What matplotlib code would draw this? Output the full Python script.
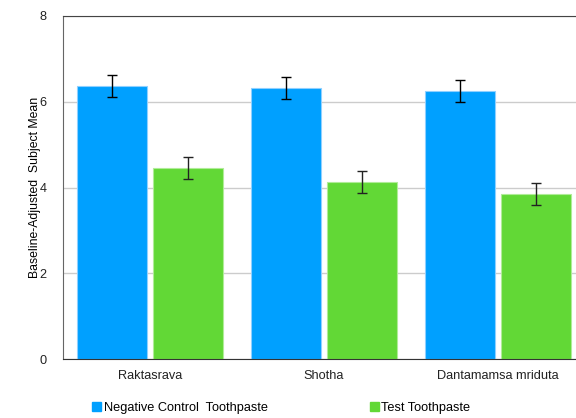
import numpy as np
import matplotlib.pyplot as plt
from matplotlib.patches import Patch

categories = ['Raktasrava', 'Shotha', 'Dantamamsa mriduta']
control_mean = [6.37, 6.32, 6.25]
control_err = [0.25, 0.25, 0.25]
test_mean = [4.45, 4.13, 3.85]
test_err = [0.26, 0.26, 0.26]

plt.rcParams['font.family'] = ['Liberation Sans', 'DejaVu Sans']

fig = plt.figure(figsize=(5.76, 4.18), dpi=100)
ax = fig.add_axes([63 / 576, 1 - 359 / 418, 522 / 576, 343 / 418])

x = np.arange(len(categories))
w = 0.40
blue = '#00A0FF'
green = '#62D836'
ax.bar(x - 0.218, control_mean, w, color=blue, edgecolor='#8fd0ff', linewidth=0.8, zorder=2)
ax.bar(x + 0.218, test_mean, w, color=green, edgecolor='#b0ec98', linewidth=0.8, zorder=2)
ax.errorbar(x - 0.218, control_mean, yerr=control_err, fmt='none', ecolor='black',
            elinewidth=1, capsize=3.5, capthick=1, zorder=3)
ax.errorbar(x + 0.218, test_mean, yerr=test_err, fmt='none', ecolor='#222222',
            elinewidth=1, capsize=3.5, capthick=1, zorder=3)

ax.set_xlim(-0.5, 2.5)
ax.set_ylim(0, 8)
ax.set_yticks([0, 2, 4, 6, 8])
ax.set_xticks(x)
ax.set_xticklabels(categories)
ax.tick_params(length=0, labelsize=9.2, colors='#222222')
ax.tick_params(axis='y', pad=12)
ax.tick_params(axis='x', pad=8)
ax.yaxis.grid(True, color='#cccccc', linewidth=1, zorder=0)
ax.set_axisbelow(True)
ax.spines['right'].set_visible(False)
ax.spines['left'].set_color('#666666')
ax.spines['top'].set_color('#444444')
ax.spines['bottom'].set_color('#333333')
ax.set_ylabel('Baseline-Adjusted  Subject Mean', fontsize=8.8, labelpad=-1)

handles = [Patch(color=blue, label='Negative Control  Toothpaste'),
           Patch(color=green, label='Test Toothpaste')]
fig.legend(handles=handles, loc='center left', bbox_to_anchor=(92 / 576, 1 - 408 / 418), ncol=2,
           frameon=False, fontsize=9.2, handlelength=0.7, handleheight=0.7,
           handletextpad=0.2, columnspacing=8.0, borderaxespad=0, borderpad=0)

fig.savefig('out.png', dpi=100)
